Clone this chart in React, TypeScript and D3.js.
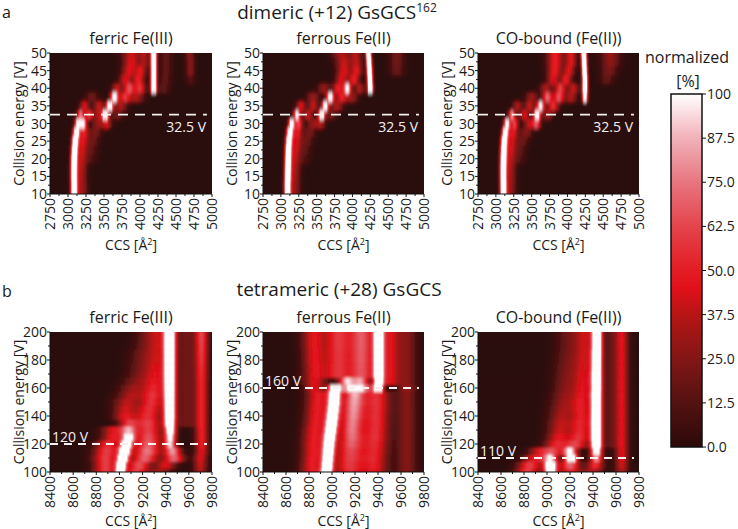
import React from 'react';
import * as d3 from 'd3';

type Peak = [number, number, number]; // CCS centre, amplitude (0-1+), width (Å)
type Row = [number, Peak[]]; // collision energy, peaks

// ---------- axis / tick data ----------
const dimerCcsTicks = [2750, 3000, 3250, 3500, 3750, 4000, 4250, 4500, 4750, 5000];
const dimerEnergyTicks = [10, 15, 20, 25, 30, 35, 40, 45, 50];
const tetraCcsTicks = [8400, 8600, 8800, 9000, 9200, 9400, 9600, 9800];
const tetraEnergyTicks = [100, 120, 140, 160, 180, 200];
const colorbarTicks = [0, 12.5, 25, 37.5, 50, 62.5, 75, 87.5, 100];
const colorbarTickLabels = ['0.0', '12.5', '25.0', '37.5', '50.0', '62.5', '75.0', '87.5', '100'];

// colour map (normalized intensity -> colour)
const cmapDomain = [0, 0.125, 0.25, 0.375, 0.45, 0.5, 0.625, 0.75, 0.875, 1];
const cmapRange = ['#2b0909', '#541212', '#831616', '#b71515', '#e0101a', '#e31c24', '#e4444c', '#e87580', '#f1b1b9', '#ffffff'];

const panelTitles = ['ferric Fe(III)', 'ferrous Fe(II)', 'CO-bound (Fe(II))'];
const dimerMarkers = [32.5, 32.5, 32.5];
const tetraMarkers = [120, 160, 110];

// ---------- heatmap rows ----------
const dimerFerricRows: Row[] = [
  [10, [[3085, 1.5, 32], [3190, 0.32, 55]]],
  [12.5, [[3085, 1.5, 32], [3190, 0.32, 55]]],
  [15, [[3083, 1.5, 32], [3185, 0.34, 55]]],
  [17.5, [[3083, 1.5, 32], [3185, 0.36, 55]]],
  [20, [[3085, 1.5, 32], [3190, 0.38, 55], [3320, 0.1, 60]]],
  [22.5, [[3090, 1.45, 32], [3195, 0.4, 55], [3330, 0.14, 60]]],
  [25, [[3098, 1.4, 32], [3205, 0.45, 55], [3350, 0.18, 60]]],
  [27.5, [[3115, 1.3, 32], [3220, 0.5, 50], [3380, 0.22, 60]]],
  [30, [[3140, 1.1, 32], [3215, 0.95, 35], [3420, 0.3, 60], [3540, 0.4, 45]]],
  [32.5, [[3175, 0.75, 35], [3290, 0.55, 40], [3520, 1.2, 35], [3420, 0.35, 50], [3680, 0.2, 60]]],
  [35, [[3230, 0.45, 45], [3580, 1.25, 35], [3430, 0.4, 55], [3730, 0.35, 60]]],
  [37.5, [[3330, 0.2, 60], [3645, 1.1, 40], [3790, 0.55, 55], [3950, 0.35, 70]]],
  [40, [[3680, 0.4, 50], [3850, 0.65, 55], [4000, 0.55, 55], [4190, 1.5, 30], [4330, 0.15, 60]]],
  [42.5, [[3800, 0.45, 60], [3980, 0.5, 60], [4190, 1.5, 30], [4350, 0.15, 60], [4700, 0.12, 50]]],
  [45, [[3850, 0.45, 70], [4010, 0.45, 55], [4190, 1.5, 30], [4360, 0.15, 60], [4700, 0.25, 45]]],
  [47.5, [[3880, 0.45, 80], [4060, 0.3, 50], [4190, 1.5, 30], [4360, 0.15, 60], [4700, 0.25, 45]]],
  [50, [[3880, 0.4, 90], [4060, 0.3, 50], [4190, 1.5, 30], [4360, 0.15, 60], [4690, 0.25, 45]]],
];

const dimerFerrousRows: Row[] = [
  [10, [[3093, 1.5, 32], [3190, 0.3, 55]]],
  [12.5, [[3092, 1.5, 32], [3190, 0.3, 55]]],
  [15, [[3095, 1.5, 32], [3190, 0.32, 55]]],
  [17.5, [[3097, 1.5, 32], [3195, 0.34, 55]]],
  [20, [[3100, 1.5, 32], [3200, 0.36, 55], [3330, 0.1, 60]]],
  [22.5, [[3103, 1.45, 32], [3205, 0.4, 55], [3340, 0.14, 60]]],
  [25, [[3110, 1.4, 32], [3215, 0.42, 55], [3360, 0.18, 60]]],
  [27.5, [[3125, 1.3, 32], [3230, 0.48, 50], [3400, 0.22, 60]]],
  [30, [[3150, 1.15, 32], [3250, 0.6, 40], [3450, 0.3, 60], [3560, 0.3, 45]]],
  [32.5, [[3225, 1.0, 35], [3380, 0.4, 50], [3570, 1.2, 35], [3700, 0.2, 50]]],
  [35, [[3280, 0.45, 45], [3450, 0.4, 50], [3620, 1.15, 35], [3780, 0.35, 60]]],
  [37.5, [[3450, 0.3, 60], [3690, 1.1, 40], [3850, 0.5, 55], [3990, 0.3, 60]]],
  [40, [[3600, 0.3, 60], [3800, 0.5, 55], [3930, 1.0, 40], [4100, 0.35, 50], [4250, 1.5, 28]]],
  [42.5, [[3850, 0.45, 60], [4020, 0.5, 55], [4245, 1.5, 28]]],
  [45, [[3880, 0.45, 70], [4060, 0.45, 55], [4240, 1.5, 28], [4620, 0.18, 70]]],
  [47.5, [[3880, 0.4, 80], [4060, 0.35, 55], [4232, 1.5, 28], [4620, 0.2, 70]]],
  [50, [[3850, 0.35, 90], [4050, 0.35, 55], [4225, 1.5, 28], [4620, 0.2, 70]]],
];

const dimerCoRows: Row[] = [
  [10, [[3104, 1.5, 32], [3200, 0.3, 55]]],
  [12.5, [[3104, 1.5, 32], [3200, 0.3, 55]]],
  [15, [[3102, 1.5, 32], [3200, 0.32, 55]]],
  [17.5, [[3102, 1.5, 32], [3200, 0.34, 55]]],
  [20, [[3105, 1.5, 32], [3205, 0.36, 55], [3330, 0.1, 60]]],
  [22.5, [[3108, 1.45, 32], [3210, 0.4, 55], [3340, 0.14, 60]]],
  [25, [[3115, 1.4, 32], [3220, 0.42, 55], [3370, 0.18, 60]]],
  [27.5, [[3130, 1.3, 32], [3240, 0.48, 50], [3420, 0.25, 60]]],
  [30, [[3155, 1.1, 32], [3260, 0.6, 40], [3470, 0.4, 55], [3570, 0.6, 40]]],
  [32.5, [[3225, 0.8, 35], [3400, 0.45, 50], [3575, 1.2, 35], [3720, 0.3, 50]]],
  [35, [[3300, 0.35, 45], [3470, 0.4, 50], [3625, 1.0, 40], [3800, 0.55, 55]]],
  [37.5, [[3500, 0.3, 60], [3720, 0.7, 50], [3880, 0.65, 55], [4050, 0.35, 55], [4245, 1.2, 28]]],
  [40, [[3700, 0.35, 60], [3900, 0.6, 55], [4080, 0.4, 55], [4245, 1.5, 28]]],
  [42.5, [[3800, 0.45, 60], [3980, 0.5, 55], [4245, 1.5, 28], [4550, 0.15, 70]]],
  [45, [[3820, 0.5, 70], [4020, 0.45, 55], [4240, 1.5, 28], [4580, 0.22, 80]]],
  [47.5, [[3830, 0.5, 80], [4050, 0.45, 55], [4235, 1.5, 28], [4600, 0.28, 90]]],
  [50, [[3830, 0.5, 80], [4050, 0.45, 55], [4230, 1.5, 28], [4600, 0.3, 90]]],
];

const tetraFerricRows: Row[] = [
  [100, [[9010, 1.4, 30], [8880, 0.6, 70], [9150, 0.6, 70], [9350, 0.3, 60], [9700, 0.35, 40]]],
  [105, [[9015, 1.4, 32], [8880, 0.6, 70], [9170, 0.65, 70], [9400, 0.45, 60], [9700, 0.4, 40]]],
  [110, [[9030, 1.4, 35], [8880, 0.6, 75], [9220, 0.7, 80], [9470, 0.7, 60], [9700, 0.45, 40]]],
  [115, [[9045, 1.4, 38], [8890, 0.6, 75], [9240, 0.75, 80], [9460, 0.8, 50], [9710, 0.45, 40]]],
  [120, [[9060, 1.3, 40], [8900, 0.55, 70], [9250, 0.7, 80], [9440, 0.9, 35], [9710, 0.5, 40]]],
  [125, [[9080, 1.1, 40], [8950, 0.5, 70], [9250, 0.65, 80], [9440, 1.0, 35], [9710, 0.5, 40]]],
  [130, [[9080, 0.75, 50], [8950, 0.45, 70], [9250, 0.6, 80], [9440, 1.2, 35], [9710, 0.5, 40]]],
  [135, [[9080, 0.55, 60], [9250, 0.6, 80], [9435, 1.4, 35], [9580, 0.2, 60], [9710, 0.5, 40]]],
  [140, [[9050, 0.45, 70], [9250, 0.55, 80], [9435, 1.5, 35], [9580, 0.2, 60], [9710, 0.5, 40]]],
  [145, [[9050, 0.4, 70], [9260, 0.55, 80], [9435, 1.5, 35], [9580, 0.2, 60], [9710, 0.5, 40]]],
  [150, [[9070, 0.38, 80], [9280, 0.55, 70], [9435, 1.5, 35], [9580, 0.2, 60], [9710, 0.5, 40]]],
  [155, [[9100, 0.35, 80], [9290, 0.55, 70], [9435, 1.5, 35], [9580, 0.2, 60], [9710, 0.5, 40]]],
  [160, [[9120, 0.3, 80], [9300, 0.5, 70], [9435, 1.5, 35], [9580, 0.2, 60], [9710, 0.5, 40]]],
  [165, [[9150, 0.25, 80], [9310, 0.45, 70], [9435, 1.5, 35], [9580, 0.2, 60], [9710, 0.5, 40]]],
  [170, [[9180, 0.22, 80], [9320, 0.4, 70], [9435, 1.5, 35], [9580, 0.2, 60], [9710, 0.52, 40]]],
  [175, [[9190, 0.2, 80], [9325, 0.38, 70], [9435, 1.5, 35], [9580, 0.2, 60], [9710, 0.53, 40]]],
  [180, [[9200, 0.2, 80], [9330, 0.35, 70], [9435, 1.5, 35], [9580, 0.2, 60], [9710, 0.55, 40]]],
  [185, [[9210, 0.2, 80], [9335, 0.33, 70], [9435, 1.5, 35], [9580, 0.2, 60], [9710, 0.57, 40]]],
  [190, [[9230, 0.18, 80], [9340, 0.32, 70], [9435, 1.5, 35], [9580, 0.2, 60], [9710, 0.58, 40]]],
  [195, [[9240, 0.18, 80], [9340, 0.3, 70], [9435, 1.5, 35], [9580, 0.2, 60], [9710, 0.6, 40]]],
  [200, [[9250, 0.18, 80], [9340, 0.3, 70], [9435, 1.5, 35], [9580, 0.2, 60], [9710, 0.6, 40]]],
];

const tetraFerrousRows: Row[] = [
  [100, [[8955, 1.5, 35], [8830, 0.5, 70], [9150, 0.55, 90], [9370, 0.45, 80], [9650, 0.25, 60]]],
  [105, [[8960, 1.5, 35], [8830, 0.5, 70], [9150, 0.58, 90], [9370, 0.48, 80], [9650, 0.25, 60]]],
  [110, [[8965, 1.5, 35], [8835, 0.5, 70], [9155, 0.6, 90], [9370, 0.5, 80], [9650, 0.25, 60]]],
  [115, [[8970, 1.5, 36], [8840, 0.5, 70], [9160, 0.62, 85], [9375, 0.5, 80], [9650, 0.25, 60]]],
  [120, [[8975, 1.5, 37], [8840, 0.5, 70], [9165, 0.68, 80], [9375, 0.52, 80], [9650, 0.25, 60]]],
  [125, [[8982, 1.5, 38], [8845, 0.5, 70], [9170, 0.72, 75], [9380, 0.55, 80], [9650, 0.25, 60]]],
  [130, [[8990, 1.5, 38], [8850, 0.5, 70], [9170, 0.75, 70], [9380, 0.55, 80], [9650, 0.25, 60]]],
  [135, [[8998, 1.5, 38], [8860, 0.5, 70], [9175, 0.76, 70], [9385, 0.55, 80], [9650, 0.25, 60]]],
  [140, [[9005, 1.5, 38], [8865, 0.5, 70], [9180, 0.78, 70], [9385, 0.55, 80], [9650, 0.25, 60]]],
  [145, [[9012, 1.5, 38], [8870, 0.5, 70], [9185, 0.8, 70], [9390, 0.55, 80], [9650, 0.25, 60]]],
  [150, [[9018, 1.5, 38], [8875, 0.5, 70], [9190, 0.82, 70], [9390, 0.55, 80], [9650, 0.25, 60]]],
  [155, [[9022, 1.5, 38], [8880, 0.5, 70], [9195, 0.85, 65], [9390, 0.55, 80], [9650, 0.25, 60]]],
  [160, [[9020, 1.1, 40], [9200, 1.1, 50], [9100, 0.5, 60], [9300, 0.6, 60], [9405, 1.4, 30], [8850, 0.45, 60], [9650, 0.3, 60]]],
  [165, [[9130, 0.9, 50], [9250, 0.8, 50], [9405, 1.5, 30], [8850, 0.45, 70], [9500, 0.45, 60], [9650, 0.25, 60]]],
  [170, [[9405, 1.5, 30], [8850, 0.45, 70], [9050, 0.55, 80], [9260, 0.65, 80], [9500, 0.45, 60], [9650, 0.25, 60]]],
  [175, [[9405, 1.5, 30], [8850, 0.45, 70], [9050, 0.55, 80], [9260, 0.65, 80], [9500, 0.45, 60], [9650, 0.25, 60]]],
  [180, [[9405, 1.5, 30], [8845, 0.45, 70], [9050, 0.55, 80], [9260, 0.66, 80], [9500, 0.45, 60], [9650, 0.25, 60]]],
  [185, [[9405, 1.5, 30], [8845, 0.45, 70], [9050, 0.55, 80], [9260, 0.66, 80], [9500, 0.45, 60], [9650, 0.25, 60]]],
  [190, [[9405, 1.5, 30], [8840, 0.45, 70], [9050, 0.56, 80], [9260, 0.67, 80], [9500, 0.45, 60], [9650, 0.25, 60]]],
  [195, [[9405, 1.5, 30], [8840, 0.45, 70], [9050, 0.56, 80], [9260, 0.67, 80], [9500, 0.45, 60], [9650, 0.25, 60]]],
  [200, [[9405, 1.5, 30], [8840, 0.45, 70], [9050, 0.56, 80], [9260, 0.67, 80], [9500, 0.45, 60], [9650, 0.25, 60]]],
];

const tetraCoRows: Row[] = [
  [100, [[9030, 1.3, 40], [8830, 0.6, 70], [9200, 0.5, 70], [9400, 0.35, 60], [9650, 0.35, 40]]],
  [105, [[9030, 1.4, 40], [8850, 0.6, 70], [9200, 0.7, 60], [9420, 0.55, 50], [9650, 0.4, 40]]],
  [110, [[9030, 0.9, 45], [9210, 1.3, 40], [8900, 0.5, 70], [9430, 0.8, 40], [9650, 0.45, 40]]],
  [115, [[9050, 0.6, 60], [9200, 1.0, 45], [9430, 1.2, 35], [8930, 0.4, 60], [9650, 0.45, 40]]],
  [120, [[9080, 0.5, 70], [9250, 0.6, 70], [9430, 1.5, 35], [9560, 0.15, 40], [9650, 0.45, 40]]],
  [125, [[9100, 0.45, 70], [9280, 0.55, 70], [9430, 1.5, 35], [9560, 0.15, 40], [9650, 0.45, 40]]],
  [130, [[9110, 0.4, 70], [9290, 0.52, 65], [9430, 1.5, 35], [9560, 0.15, 40], [9650, 0.45, 40]]],
  [135, [[9120, 0.38, 75], [9295, 0.5, 65], [9430, 1.5, 35], [9560, 0.15, 40], [9650, 0.45, 40]]],
  [140, [[9130, 0.35, 75], [9300, 0.48, 60], [9430, 1.5, 35], [9560, 0.15, 40], [9650, 0.45, 40]]],
  [145, [[9140, 0.32, 80], [9300, 0.46, 60], [9430, 1.5, 35], [9560, 0.15, 40], [9650, 0.45, 40]]],
  [150, [[9150, 0.3, 80], [9300, 0.45, 60], [9430, 1.5, 35], [9560, 0.15, 40], [9650, 0.45, 40]]],
  [155, [[9160, 0.28, 80], [9310, 0.42, 60], [9430, 1.5, 35], [9560, 0.15, 40], [9650, 0.45, 40]]],
  [160, [[9170, 0.26, 80], [9315, 0.4, 60], [9432, 1.5, 34], [9560, 0.15, 40], [9650, 0.45, 40]]],
  [165, [[9175, 0.25, 80], [9320, 0.4, 60], [9432, 1.5, 34], [9560, 0.15, 40], [9650, 0.45, 40]]],
  [170, [[9180, 0.24, 80], [9320, 0.38, 60], [9432, 1.5, 34], [9560, 0.15, 40], [9650, 0.45, 40]]],
  [175, [[9185, 0.23, 80], [9325, 0.37, 60], [9433, 1.5, 33], [9560, 0.15, 40], [9650, 0.45, 40]]],
  [180, [[9190, 0.22, 80], [9325, 0.36, 60], [9433, 1.5, 33], [9560, 0.15, 40], [9650, 0.45, 40]]],
  [185, [[9195, 0.21, 80], [9330, 0.36, 60], [9434, 1.5, 33], [9560, 0.15, 40], [9650, 0.45, 40]]],
  [190, [[9200, 0.2, 80], [9330, 0.35, 60], [9435, 1.5, 32], [9560, 0.15, 40], [9650, 0.45, 40]]],
  [195, [[9200, 0.2, 80], [9330, 0.35, 60], [9435, 1.5, 32], [9560, 0.15, 40], [9650, 0.45, 40]]],
  [200, [[9200, 0.2, 80], [9330, 0.35, 60], [9435, 1.5, 32], [9560, 0.15, 40], [9650, 0.45, 40]]],
];

// ---------- layout ----------
const FONT = "'Open Sans', 'Noto Sans', sans-serif";
const TXT = '#1a1a1a';
const colX: [number, number][] = [[50, 212], [263, 424], [478, 639]];
const topY: [number, number] = [53, 194];
const botY: [number, number] = [332, 472];

const cmap = d3.scaleLinear<string>().domain(cmapDomain).range(cmapRange).clamp(true);

function intensity(peaks: Peak[], x: number) {
  let s = 0;
  for (const [c, a, w] of peaks) s += a * Math.exp(-((x - c) ** 2) / (2 * w * w));
  return Math.min(1, s);
}

interface PanelProps {
  id: string;
  px: [number, number];
  py: [number, number];
  xDomain: [number, number];
  yDomain: [number, number];
  rows: Row[];
  step: number;
  xTicks: number[];
  yTicks: number[];
  title: string;
  marker: number;
  markerLabel: string;
  top: boolean;
}

function Panel(p: PanelProps) {
  const x = d3.scaleLinear().domain(p.xDomain).range(p.px);
  const y = d3.scaleLinear().domain(p.yDomain).range([p.py[1], p.py[0]]);
  const nStops = 200;
  const xMinor = d3.range(p.xTicks.length - 1).map(i => (p.xTicks[i] + p.xTicks[i + 1]) / 2);
  const yMinor = d3.range(p.yTicks.length - 1).map(i => (p.yTicks[i] + p.yTicks[i + 1]) / 2);
  const my = y(p.marker);
  const ext = 8;
  return (
    <g>
      <defs>
        {p.rows.map(([e, peaks], i) => (
          <linearGradient key={i} id={`${p.id}-r${i}`} gradientUnits="userSpaceOnUse" x1={p.px[0]} x2={p.px[1]} y1={0} y2={0}>
            {d3.range(nStops + 1).map(k => {
              const v = p.xDomain[0] + (k / nStops) * (p.xDomain[1] - p.xDomain[0]);
              return <stop key={k} offset={k / nStops} stopColor={cmap(intensity(peaks, v))} />;
            })}
          </linearGradient>
        ))}
        <clipPath id={`${p.id}-clip`}>
          <rect x={p.px[0]} y={p.py[0]} width={p.px[1] - p.px[0]} height={p.py[1] - p.py[0]} />
        </clipPath>
        <filter id={`${p.id}-blur`} x="-10%" y="-10%" width="120%" height="120%">
          <feGaussianBlur stdDeviation={p.top ? '0.5 2.2' : '0.7 1.8'} />
        </filter>
      </defs>
      <g clipPath={`url(#${p.id}-clip)`}>
        <rect x={p.px[0]} y={p.py[0]} width={p.px[1] - p.px[0]} height={p.py[1] - p.py[0]} fill={cmapRange[0]} />
        <g filter={`url(#${p.id}-blur)`}>
          {p.rows.map(([e], i) => {
            const lo = e - p.step / 2;
            const hi = e + p.step / 2;
            let yTop = y(Math.min(p.yDomain[1], hi));
            let yBot = y(Math.max(p.yDomain[0], lo));
            if (i === p.rows.length - 1) yTop -= ext;
            if (i === 0) yBot += ext;
            return (
              <rect key={i} x={p.px[0] - ext} width={p.px[1] - p.px[0] + 2 * ext} y={yTop - 0.3} height={yBot - yTop + 0.6}
                fill={`url(#${p.id}-r${i})`} />
            );
          })}
        </g>
      </g>
      {/* axes */}
      <line x1={p.px[0]} x2={p.px[0]} y1={p.py[0]} y2={p.py[1]} stroke="#111" strokeWidth={1} />
      <line x1={p.px[0]} x2={p.px[1]} y1={p.py[1]} y2={p.py[1]} stroke="#111" strokeWidth={1} />
      {p.yTicks.map(t => (
        <g key={`y${t}`}>
          <line x1={p.px[0] - 3} x2={p.px[0]} y1={y(t)} y2={y(t)} stroke="#111" />
          <text x={p.px[0] - 3} y={y(t)} dy="0.36em" textAnchor="end" fontSize={14} fill={TXT} fontFamily={FONT}>{t}</text>
        </g>
      ))}
      {yMinor.map(t => (
        <line key={`ym${t}`} x1={p.px[0] - 2} x2={p.px[0]} y1={y(t)} y2={y(t)} stroke="#111" />
      ))}
      {p.xTicks.map(t => (
        <g key={`x${t}`}>
          <line x1={x(t)} x2={x(t)} y1={p.py[1]} y2={p.py[1] + 3} stroke="#111" />
          <text transform={`translate(${x(t)},${p.py[1] + 4}) rotate(-90)`} dy="0.36em" textAnchor="end" fontSize={14} fill={TXT} fontFamily={FONT}>{t}</text>
        </g>
      ))}
      {xMinor.map(t => (
        <line key={`xm${t}`} x1={x(t)} x2={x(t)} y1={p.py[1]} y2={p.py[1] + 2} stroke="#111" />
      ))}
      {/* marker */}
      <line x1={p.px[0]} x2={p.px[1] - 5} y1={my} y2={my} stroke="#f4f0f0" strokeWidth={1.8}
        strokeDasharray={p.top ? '10,7' : '8,6'} />
      {p.top ? (
        <text x={p.px[1] - 6} y={my + 17} textAnchor="end" fontSize={14} fill="#f4f0f0" fontFamily={FONT}>{p.markerLabel}</text>
      ) : (
        <text x={p.px[0] + 2} y={my - 2} textAnchor="start" fontSize={14} fill="#f4f0f0" fontFamily={FONT}>{p.markerLabel}</text>
      )}
      {/* labels */}
      <text x={(p.px[0] + p.px[1]) / 2} y={p.py[0] - 9} textAnchor="middle" fontSize={16} fill={TXT} fontFamily={FONT}>{p.title}</text>
      <text transform={`translate(${p.px[0] - 31},${(p.py[0] + p.py[1]) / 2}) rotate(-90)`} dy="0.36em" textAnchor="middle" fontSize={14} fill={TXT} fontFamily={FONT}>Collision energy [V]</text>
      <text x={(p.px[0] + p.px[1]) / 2} y={p.top ? 250 : 526} textAnchor="middle" fontSize={14} fill={TXT} fontFamily={FONT}>
        CCS [Å<tspan dy="-5" fontSize={9}>2</tspan><tspan dy="5">]</tspan>
      </text>
    </g>
  );
}

function Colorbar() {
  const cx0 = 671, cx1 = 702, cy0 = 94, cy1 = 447;
  const s = d3.scaleLinear().domain([0, 100]).range([cy1, cy0]);
  return (
    <g>
      <defs>
        <linearGradient id="cbar" x1="0" x2="0" y1="1" y2="0">
          {cmapDomain.map((d, i) => <stop key={i} offset={d} stopColor={cmapRange[i]} />)}
        </linearGradient>
      </defs>
      <rect x={cx0} y={cy0} width={cx1 - cx0} height={cy1 - cy0} fill="url(#cbar)" stroke="#111" strokeWidth={1.5} />
      {colorbarTicks.map((t, i) => (
        <g key={t}>
          <line x1={cx1} x2={cx1 + 4} y1={s(t)} y2={s(t)} stroke="#111" />
          <text x={cx1 + 5} y={s(t)} dy="0.36em" fontSize={14} fill={TXT} fontFamily={FONT}>{colorbarTickLabels[i]}</text>
        </g>
      ))}
      <text x={687} y={63} textAnchor="middle" fontSize={16} fill={TXT} fontFamily={FONT}>normalized</text>
      <text x={688} y={87} textAnchor="middle" fontSize={16} fill={TXT} fontFamily={FONT}>[%]</text>
    </g>
  );
}

export default function App() {
  const dimerRows = [dimerFerricRows, dimerFerrousRows, dimerCoRows];
  const tetraRows = [tetraFerricRows, tetraFerrousRows, tetraCoRows];
  return (
    <svg width={738} height={529} style={{ position: 'absolute', left: 0, top: 0, background: '#fff' }}>
      <rect width={738} height={529} fill="#fff" />
      <text x={2} y={18} fontSize={16} fill={TXT} fontFamily={FONT}>a</text>
      <text x={337} y={19} textAnchor="middle" fontSize={19} fill={TXT} fontFamily={FONT}>
        dimeric (+12) GsGCS<tspan dy="-7" fontSize={12}>162</tspan>
      </text>
      <text x={2} y={297} fontSize={16} fill={TXT} fontFamily={FONT}>b</text>
      <text x={339} y={296} textAnchor="middle" fontSize={19} fill={TXT} fontFamily={FONT}>tetrameric (+28) GsGCS</text>
      {colX.map((px, i) => (
        <Panel key={`d${i}`} id={`d${i}`} px={px} py={topY} xDomain={[2750, 5000]} yDomain={[10, 50]}
          rows={dimerRows[i]} step={2.5} xTicks={dimerCcsTicks} yTicks={dimerEnergyTicks}
          title={panelTitles[i]} marker={dimerMarkers[i]} markerLabel={`${dimerMarkers[i]} V`} top={true} />
      ))}
      {colX.map((px, i) => (
        <Panel key={`t${i}`} id={`t${i}`} px={px} py={botY} xDomain={[8400, 9800]} yDomain={[100, 200]}
          rows={tetraRows[i]} step={5} xTicks={tetraCcsTicks} yTicks={tetraEnergyTicks}
          title={panelTitles[i]} marker={tetraMarkers[i]} markerLabel={`${tetraMarkers[i]} V`} top={false} />
      ))}
      <Colorbar />
    </svg>
  );
}
